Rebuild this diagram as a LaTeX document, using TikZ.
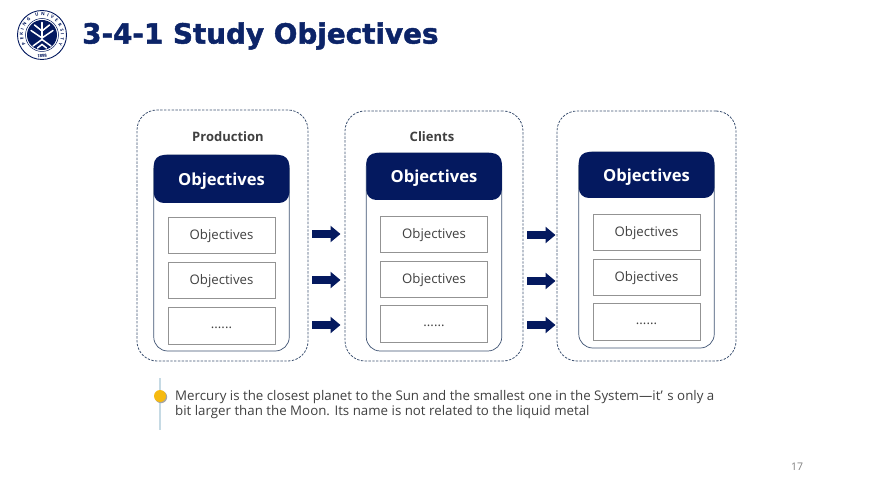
\documentclass[tikz,border=0pt]{standalone}
\usepackage{fontspec}
\setmainfont{Open Sans}
\newfontfamily\titlefont[BoldFeatures={FakeBold=1.6}]{DejaVu Sans}
\usetikzlibrary{arrows.meta,decorations.text}
\definecolor{navy}{HTML}{04195F}
\definecolor{ttl}{HTML}{0C2468}
\definecolor{txt}{HTML}{404040}
\definecolor{edge}{HTML}{3F5373}
\definecolor{rule}{HTML}{C6DAE4}
\definecolor{sun}{HTML}{F6BA10}
\tikzset{
 x=1pt,y=-1pt,
 outerbox/.style={draw=edge,dash pattern=on 2.4pt off 1.4pt,line width=.8pt,rounded corners=20pt,minimum width=#1,minimum height=251pt,inner sep=0pt},
 panelbox/.style={draw=edge,line width=.7pt,rounded corners=14pt,minimum width=135.5pt,inner sep=0pt,fill=white},
 headbox/.style={fill=navy,draw=none,rounded corners=10pt,minimum width=135.5pt,inner sep=0pt,text=white,text depth=0pt,font=\fontsize{16.6}{20}\selectfont\bfseries},
 itembox/.style={draw=gray!85,line width=.8pt,minimum width=107pt,minimum height=36pt,inner sep=0pt,text=txt,text height=11.6pt,text depth=3pt,font=\fontsize{13.2}{15}\selectfont,fill=white},
 dotsbox/.style={itembox,minimum height=37pt,text height=8pt},
 grouplabel/.style={text=txt,font=\fontsize{13}{15}\selectfont\bfseries,inner sep=0pt},
 flowarrow/.style={draw=navy,line width=8.5pt,-{Triangle[length=10pt,width=16pt]},shorten >=0pt},
}
\begin{document}
\begin{tikzpicture}
\useasboundingbox (0,0) rectangle (870,489);
\fill[white] (0,0) rectangle (870,489);
% logo
\draw[navy,line width=.9pt] (42,35) circle (24.5);
\draw[navy,line width=.5pt] (42,35) circle (16.5);
\fill[navy] (42,35) circle (15);
\begin{scope}[white,line width=1.5pt,line cap=round]
 \draw (42,22.5) -- (42,38);
 \draw (34.5,25) -- (42,31) -- (49.5,25);
 \draw (31,30.5) -- (42,38) -- (53,30.5);
 \draw (33,46) -- (42,39.5) -- (51,46);
 \draw (37.5,48) -- (42,44.5) -- (46.5,48);
\end{scope}
\path[decorate,decoration={text along path,text align={fit to path},text={|\fontsize{4.4}{5}\selectfont\bfseries\color{navy}|PEKING UNIVERSITY}}] (25.55,44.5) arc[start angle=150,end angle=390,radius=19];
\path[decorate,decoration={text along path,text align=center,text={|\fontsize{4.4}{5}\selectfont\bfseries\color{navy}|1898}}] (32.3,55.8) arc[start angle=115,end angle=65,radius=23];
% title
\node[anchor=west,inner sep=0pt,text=ttl,font=\titlefont\fontsize{27.8}{30}\selectfont\bfseries] (title) at (82,36) {3-4-1 Study Objectives};
% outer dashed groups
\node[outerbox=171pt] (groupA) at (222.5,235.5) {};
\node[outerbox=178pt,minimum height=250pt] (groupB) at (434,236) {};
\node[outerbox=179pt,minimum height=250pt] (groupC) at (646.5,236) {};
\node[grouplabel] (labelA) at (228,137) {Production};
\node[grouplabel] (labelB) at (432,137) {Clients};
% panels
\node[panelbox,minimum height=196pt] (panelA) at (221.5,253) {};
\node[panelbox,minimum height=198pt] (panelB) at (434,252) {};
\node[panelbox,minimum height=196pt] (panelC) at (646.5,250) {};
\node[headbox,minimum height=48pt] (headA) at (221.5,179) {Objectives};
\node[headbox,minimum height=47pt] (headB) at (434,176.5) {Objectives};
\node[headbox,minimum height=46pt] (headC) at (646.5,175) {Objectives};
% items
\node[itembox] (a1) at (221.5,235) {Objectives};
\node[itembox] (a2) at (221.5,280) {Objectives};
\node[dotsbox] (a3) at (221.5,325.5) {......};
\node[itembox] (b1) at (434,234) {Objectives};
\node[itembox] (b2) at (434,279) {Objectives};
\node[dotsbox] (b3) at (434,323.5) {......};
\node[itembox] (c1) at (646.5,232) {Objectives};
\node[itembox] (c2) at (646.5,277) {Objectives};
\node[dotsbox] (c3) at (646.5,322) {......};
% arrows
\foreach \n/\y in {1/234,2/280,3/325}{
 \coordinate (p\n) at (312,\y);
 \coordinate (q\n) at (340.5,\y);
 \draw[flowarrow] (p\n) -- (q\n);
}
\foreach \n/\y in {1/235,2/281,3/325}{
 \coordinate (r\n) at (527,\y);
 \coordinate (s\n) at (555.5,\y);
 \draw[flowarrow] (r\n) -- (s\n);
}
% note
\draw[line width=1.2pt,draw=rule] (160,378) -- (160,430);
\fill[gray!70] (161,397) circle (6.2);
\fill[sun] (160,396) circle (6);
\node[anchor=north west,inner sep=0pt,text=txt,align=left,font=\fontsize{13.3}{15}\selectfont] (note) at (175,390) {\frenchspacing Mercury is the closest planet to the Sun and the smallest one in the System---it’\,\,s only a\\bit larger than the Moon. Its name is not related to the liquid metal};
\node[text=gray,inner sep=0pt,font=\fontsize{10.5}{12}\selectfont] (page) at (797,467) {17};
\end{tikzpicture}
\end{document}
